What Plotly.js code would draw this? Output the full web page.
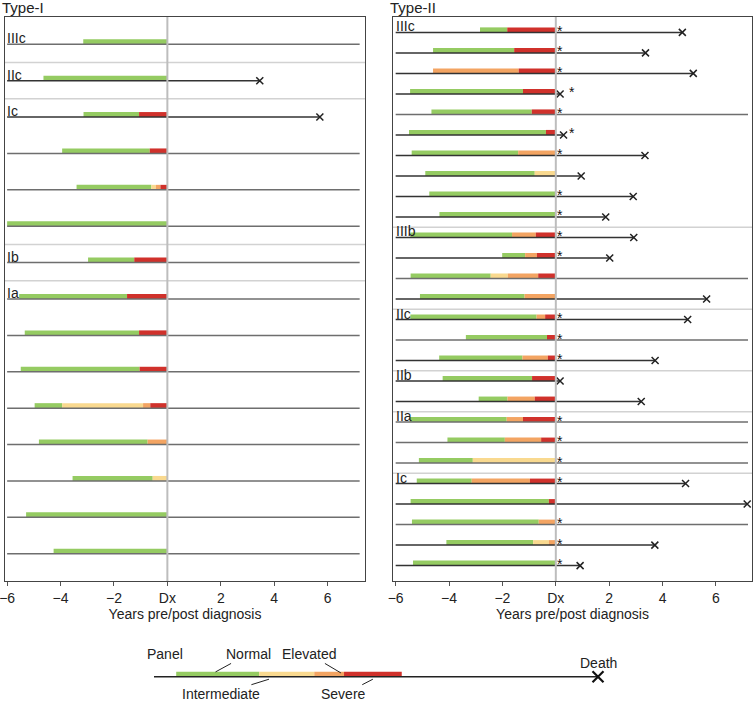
<!DOCTYPE html>
<html>
<head>
<meta charset="utf-8">
<script src="https://cdn.plot.ly/plotly-3.0.1.min.js"></script>
<style>html,body{margin:0;padding:0;background:#fff;}#chart{width:754px;height:702px;}</style>
</head>
<body>
<div id="chart"></div>
<script>
// ---------------- DATA ----------------
// Type-I panel (rows top to bottom)
const typeI_group  = ['IIIc','IIc','Ic','','','','Ib','Ia','','','','','','',''];
const typeI_normal = [-3.15,-4.64,-3.14,-3.94,-3.40,-6.00,-2.97,-5.55,-5.34,-5.49,-4.97,-4.81,-3.55,-5.29,-4.26];
const typeI_inter  = [null,null,null,null,-0.60,null,null,null,null,null,-3.94,null,-0.55,null,null];
const typeI_elev   = [null,null,null,null,-0.43,null,null,null,null,null,-0.91,-0.74,null,null,null];
const typeI_severe = [null,null,-1.06,-0.66,-0.26,null,-1.24,-1.51,-1.06,-1.04,-0.64,null,null,null,null];
const typeI_death  = [null,3.46,5.71,null,null,null,null,null,null,null,null,null,null,null,null];
const typeI_star   = [null,null,null,null,null,null,null,null,null,null,null,null,null,null,null];

// Type-II panel (rows top to bottom)
const typeII_group  = ['IIIc','','','','','','','','','','IIIb','','','','IIc','','','IIb','','IIa','','','Ic','','','',''];
const typeII_normal = [-2.84,-4.60,null,-5.46,-4.66,-5.50,-5.40,-4.89,-4.74,-4.36,-5.45,-2.01,-5.44,-5.09,-5.45,-3.37,-4.37,-4.24,-2.89,-5.47,-4.06,-5.13,-5.21,-5.44,-5.39,-4.10,-5.35];
const typeII_inter  = [null,null,null,null,null,null,null,-0.79,null,null,null,null,-2.44,null,null,null,null,null,null,null,null,-3.11,null,null,null,-0.85,null];
const typeII_elev   = [null,null,-4.60,null,null,null,-1.41,null,null,null,-1.64,-1.15,-1.80,-1.17,-0.72,null,-1.25,null,-1.81,-1.84,-1.91,null,-3.15,null,-0.64,-0.26,null];
const typeII_severe = [-1.82,-1.56,-1.39,-1.23,-0.90,-0.37,null,null,null,null,-0.75,-0.71,-0.66,null,-0.40,-0.33,-0.30,-0.89,-0.79,-1.23,-0.55,null,-0.97,-0.26,null,null,null];
const typeII_death  = [4.74,3.36,5.15,0.16,null,0.29,3.34,0.95,2.90,1.87,2.92,2.02,null,5.65,4.94,null,3.72,0.16,3.20,null,null,null,4.86,7.17,null,3.71,0.91];
const typeII_star   = [0.15,0.15,0.15,0.60,0.15,0.60,0.15,null,0.15,0.15,0.15,0.15,null,null,0.15,0.15,0.15,null,null,0.15,0.15,0.15,0.15,null,0.15,0.15,0.15];

// Shared
const xTickVals = [-6,-4,-2,0,2,4,6];
const xTickText = ['\u22126','\u22124','\u22122','Dx','2','4','6'];
const stageNames  = ['Normal','Intermediate','Elevated','Severe'];
const stageColors = ['#95cb62','#f9d98f','#f3a462','#d0312b'];
const followEnd = 7.2;
const lineStart = -6.0;

// Legend schematic (fractions along the legend line)
const legendStarts = [0.05, 0.237, 0.361, 0.428];
const legendEnd = 0.558;
const legendDeath = 1.0;

// ---------------- BUILD ----------------
const FONT = 'Liberation Sans, Arial, Helvetica, sans-serif';
const traces = [];
const shapes = [];
const annotations = [];

const H = 702, W = 754;
const plotTop = 17, plotBot = 581;

function buildPanel(p) {
  const n = p.group.length;
  const pxPerUnit = (plotBot - plotTop) / (n + 0.5);
  const bw = 5 / pxPerUnit;
  const rows = [...Array(n).keys()];
  const stages = [p.normal, p.inter, p.elev, p.severe];
  stages.forEach((arr, si) => {
    const ys = [], bases = [], lens = [];
    rows.forEach(i => {
      const s = arr[i];
      if (s === null || s === undefined) return;
      let e = 0;
      for (let k = si + 1; k < stages.length; k++) {
        if (stages[k][i] !== null && stages[k][i] !== undefined) { e = stages[k][i]; break; }
      }
      ys.push(i); bases.push(s); lens.push(e - s);
    });
    traces.push({
      type: 'bar', orientation: 'h', xaxis: p.xa, yaxis: p.ya,
      y: ys, x: lens, base: bases, width: bw, offset: -bw,
      marker: {color: stageColors[si], line: {width: 0}},
      hoverinfo: 'skip', name: stageNames[si]
    });
  });
  const lxD = [], lyD = [], lxG = [], lyG = [];
  rows.forEach(i => {
    const end = p.death[i] !== null ? p.death[i] : followEnd;
    if (p.death[i] !== null) { lxD.push(lineStart, end, null); lyD.push(i, i, null); }
    else { lxG.push(lineStart, end, null); lyG.push(i, i, null); }
  });
  traces.push({type:'scatter', mode:'lines', xaxis:p.xa, yaxis:p.ya, x:lxG, y:lyG,
    line:{color:'#6e6e6e', width:1.5}, hoverinfo:'skip'});
  traces.push({type:'scatter', mode:'lines', xaxis:p.xa, yaxis:p.ya, x:lxD, y:lyD,
    line:{color:'#333333', width:1.5}, hoverinfo:'skip'});
  const dx = [], dy = [];
  rows.forEach(i => { if (p.death[i] !== null) { dx.push(p.death[i]); dy.push(i); } });
  traces.push({type:'scatter', mode:'markers', xaxis:p.xa, yaxis:p.ya, x:dx, y:dy, cliponaxis:false,
    marker:{symbol:'x-thin-open', size:7, line:{width:1.5, color:'#222'}, color:'#222'}, hoverinfo:'skip'});
  const sx = [], sy = [];
  rows.forEach(i => { if (p.star[i] !== null) { sx.push(p.star[i]); sy.push(i); } });
  if (sx.length) traces.push({type:'scatter', mode:'text', xaxis:p.xa, yaxis:p.ya, x:sx, y:sy,
    text: sx.map(() => '*'), textposition:'middle center',
    textfont:{family:FONT, size:14, color:'#111'}, hoverinfo:'skip'});
  rows.forEach(i => {
    if (p.group[i]) {
      if (i > 0) shapes.push({type:'line', xref: p.xa + ' domain', yref: p.ya,
        x0:0, x1:1, y0:i - 0.5, y1:i - 0.5, line:{color:'#d2d2d2', width:1.5}, layer:'below'});
      annotations.push({xref:p.xa, yref:p.ya, x:lineStart, y:i, text:p.group[i],
        showarrow:false, xanchor:'left', yanchor:'bottom', xshift:-2, yshift:-4,
        font:{family:FONT, size:14, color:'#222'}});
    }
  });
  shapes.push({type:'line', xref:p.xa, yref:p.ya + ' domain', x0:0, x1:0, y0:0, y1:1,
    line:{color:'#bdbdbd', width:2}, layer:'above'});
  return n;
}

const nI = buildPanel({group:typeI_group, normal:typeI_normal, inter:typeI_inter, elev:typeI_elev,
  severe:typeI_severe, death:typeI_death, star:typeI_star, xa:'x', ya:'y'});
const nII = buildPanel({group:typeII_group, normal:typeII_normal, inter:typeII_inter, elev:typeII_elev,
  severe:typeII_severe, death:typeII_death, star:typeII_star, xa:'x2', ya:'y2'});

// Legend schematic
traces.push({type:'scatter', mode:'lines', xaxis:'x3', yaxis:'y3', x:[0, legendDeath], y:[0,0],
  line:{color:'#222', width:1.5}, hoverinfo:'skip', cliponaxis:false});
legendStarts.forEach((s, k) => {
  const e = k + 1 < legendStarts.length ? legendStarts[k + 1] : legendEnd;
  traces.push({type:'bar', orientation:'h', xaxis:'x3', yaxis:'y3', y:[0], base:[s], x:[e - s],
    width:0.2, offset:0, marker:{color:stageColors[k], line:{width:0}}, hoverinfo:'skip'});
});
traces.push({type:'scatter', mode:'markers', xaxis:'x3', yaxis:'y3', x:[legendDeath], y:[0], cliponaxis:false,
  marker:{symbol:'x-thin-open', size:11, color:'#111', line:{width:2.2, color:'#111'}}, hoverinfo:'skip'});

const lf = {family:FONT, size:14, color:'#222'};
function mid(k){ const e = k + 1 < legendStarts.length ? legendStarts[k+1] : legendEnd; return (legendStarts[k] + e) / 2; }
annotations.push({xref:'x3', yref:'y3', x:0.025, y:0.9, text:'Panel', showarrow:false, font:lf});
annotations.push({xref:'x3', yref:'y3', x:mid(0) - 0.005, y:0.19, text:'Normal', showarrow:true,
  arrowhead:0, arrowwidth:1, arrowcolor:'#222', ax:33, ay:-18, font:lf});
annotations.push({xref:'x3', yref:'y3', x:legendStarts[2] + 0.06, y:0.15, text:'Elevated', showarrow:true,
  arrowhead:0, arrowwidth:1, arrowcolor:'#222', ax:-32, ay:-19, font:lf});
annotations.push({xref:'x3', yref:'y3', x:mid(1) - 0.04, y:-0.1, text:'Intermediate', showarrow:true,
  arrowhead:0, arrowwidth:1, arrowcolor:'#222', ax:-48, ay:15, font:lf});
annotations.push({xref:'x3', yref:'y3', x:mid(3), y:-0.1, text:'Severe', showarrow:true,
  arrowhead:0, arrowwidth:1, arrowcolor:'#222', ax:-29, ay:15, font:lf});
annotations.push({xref:'x3', yref:'y3', x:legendDeath, y:0.55, text:'Death', showarrow:false, font:lf});

annotations.push({xref:'paper', yref:'paper', x:0, y:1, xanchor:'left', yanchor:'top',
  text:'Type-I', showarrow:false, font:{family:FONT, size:15, color:'#222'}, yshift:3});
annotations.push({xref:'paper', yref:'paper', x:388/W, y:1, xanchor:'left', yanchor:'top',
  text:'Type-II', showarrow:false, font:{family:FONT, size:15, color:'#222'}, yshift:3});

function xax(domain, range, anchor) {
  return {domain:domain, range:range, anchor:anchor, tickvals:xTickVals, ticktext:xTickText,
    ticks:'outside', ticklen:4, tickwidth:1, tickcolor:'#555', showgrid:false, zeroline:false,
    showline:true, mirror:true, linecolor:'#444', linewidth:1, ticklabeloverflow:'allow',
    tickfont:{family:FONT, size:14, color:'#222'},
    title:{text:'Years pre/post diagnosis', font:{family:FONT, size:14, color:'#222'}, standoff:2},
    fixedrange:true};
}
function yax(domain, range, anchor) {
  return {domain:domain, range:range, anchor:anchor, showticklabels:false, ticks:'',
    showgrid:false, zeroline:false, showline:true, mirror:true, linecolor:'#444', linewidth:1, fixedrange:true};
}
const yDom = [(H - plotBot) / H, (H - plotTop) / H];

const layout = {
  width: W, height: H, margin:{l:0, r:0, t:0, b:0, pad:0},
  paper_bgcolor:'#fff', plot_bgcolor:'#fff', showlegend:false, barmode:'overlay',
  font:{family:FONT},
  xaxis: xax([5/W, 365/W], [-6.08, 7.4], 'y'),
  yaxis: yax(yDom, [nI - 0.25, -0.75], 'x'),
  xaxis2: xax([393/W, 752/W], [-6.1, 7.35], 'y2'),
  yaxis2: yax(yDom, [nII - 0.25, -0.75], 'x2'),
  xaxis3: {domain:[154/W, 598/W], range:[0, 1], visible:false, anchor:'y3', fixedrange:true},
  yaxis3: {domain:[0.3/H, 50.3/H], range:[-1, 1], visible:false, anchor:'x3', fixedrange:true},
  shapes: shapes, annotations: annotations
};

Plotly.newPlot('chart', traces, layout, {staticPlot:true, displayModeBar:false});
</script>
</body>
</html>
